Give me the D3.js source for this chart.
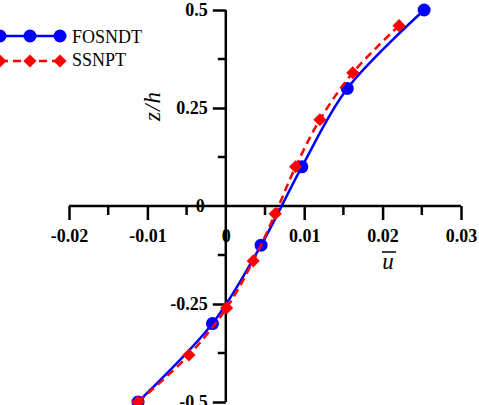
<!DOCTYPE html>
<html>
<head>
<meta charset="utf-8">
<script src="https://cdn.jsdelivr.net/npm/d3@7"></script>
<style>
  body { margin: 0; background: #fff; }
</style>
</head>
<body>
<div id="chart"></div>
<script>
(function(){
    var width = 479;
    var height = 405;
    var serif = "Liberation Serif, Times New Roman, serif";

    // data
    var fosndtU = [0.0253, 0.0155, 0.0097, 0.0045, -0.0017, -0.0112];
    var fosndtZ = [0.5, 0.3, 0.1, -0.1, -0.3, -0.5];
    var ssnptU = [0.0221, 0.0162, 0.012, 0.0089, 0.0063, 0.0035, 0.0001, -0.0047, -0.0112];
    var ssnptZ = [0.46, 0.34, 0.22, 0.1, -0.02, -0.14, -0.26, -0.38, -0.5];
    var xTicks = [-0.02, -0.01, 0, 0.01, 0.02, 0.03];
    var xMinor = [-0.015, -0.005, 0.005, 0.015, 0.025];
    var yTicks = [0.5, 0.25, 0, -0.25, -0.5];
    var yMinor = [0.375, 0.125, -0.125, -0.375];
    var seriesNames = ["FOSNDT", "SSNPT"];

    var svg = d3.select("#chart")
      .append("svg")
      .attr("width", width)
      .attr("height", height)
      .attr("font-family", serif);

    var x = d3.scaleLinear().domain([-0.02, 0.03]).range([69, 461]);
    var y = d3.scaleLinear().domain([-0.5, 0.5]).range([402, 10]);

    var fmt = function(d) { return d === 0 ? "0" : String(d); };

    // x axis through y = 0
    var xAxis = svg.append("g")
      .attr("transform", "translate(0," + y(0) + ")")
      .call(d3.axisBottom(x).tickValues(xTicks).tickSize(14).tickPadding(9).tickFormat(fmt));
    xAxis.attr("font-family", serif);
    xAxis.select(".domain").attr("stroke-width", 2.5).attr("d", "M" + x(-0.02) + ",0H" + x(0.03));
    xAxis.selectAll(".tick line").attr("stroke-width", 2.5);
    xAxis.selectAll(".tick text")
      .attr("font-family", serif)
      .attr("font-size", 18).attr("font-weight", "bold");
    xAxis.selectAll(".minor").data(xMinor).enter().append("line")
      .attr("x1", function(d){ return x(d); }).attr("x2", function(d){ return x(d); })
      .attr("y1", 0).attr("y2", 9)
      .attr("stroke", "#000").attr("stroke-width", 2.5);

    // y axis through x = 0
    var yAxis = svg.append("g")
      .attr("transform", "translate(" + x(0) + ",0)")
      .call(d3.axisLeft(y).tickValues(yTicks).tickSize(13).tickPadding(5).tickFormat(fmt));
    yAxis.attr("font-family", serif);
    yAxis.select(".domain").attr("stroke-width", 2.5).attr("d", "M0," + y(0.5) + "V" + y(-0.5));
    yAxis.selectAll(".tick line").attr("stroke-width", 2.5);
    yAxis.selectAll(".tick text")
      .attr("font-family", serif)
      .attr("font-size", 18).attr("font-weight", "bold");
    // the zero labels sit beside the crossing
    yAxis.selectAll(".tick").filter(function(d){ return d === 0; })
      .select("line").remove();
    yAxis.selectAll(".tick").filter(function(d){ return d === 0; })
      .select("text").attr("x", -21).attr("dy", "0.32em");
    xAxis.selectAll(".tick").filter(function(d){ return d === 0; })
      .select("line").remove();
    yAxis.selectAll(".minor").data(yMinor).enter().append("line")
      .attr("y1", function(d){ return y(d); }).attr("y2", function(d){ return y(d); })
      .attr("x1", 0).attr("x2", -8)
      .attr("stroke", "#000").attr("stroke-width", 2.5);

    // axis titles
    svg.append("text")
      .attr("transform", "translate(160,106) rotate(-90)")
      .attr("text-anchor", "middle")
      .attr("font-size", 23).attr("font-style", "italic")
      .attr("letter-spacing", 1)
      .text("z/h");
    svg.append("text")
      .attr("x", 388).attr("y", 269)
      .attr("text-anchor", "middle")
      .attr("font-size", 23).attr("font-style", "italic")
      .text("u");
    svg.append("line")
      .attr("x1", 382).attr("x2", 396).attr("y1", 252).attr("y2", 252)
      .attr("stroke", "#000").attr("stroke-width", 1.5);

    var blue = d3.zip(fosndtU, fosndtZ);
    var red = d3.zip(ssnptU, ssnptZ);

    var line = d3.line()
      .curve(d3.curveCatmullRom)
      .x(function(d) { return x(d[0]); })
      .y(function(d) { return y(d[1]); });

    svg.append("path")
      .attr("d", line(blue))
      .attr("stroke", "#0000ff")
      .attr("stroke-width", 2.5)
      .attr("fill", "none");
    svg.selectAll(".circ").data(blue).enter().append("circle")
      .attr("cx", function(d){ return x(d[0]); })
      .attr("cy", function(d){ return y(d[1]); })
      .attr("r", 6.5)
      .attr("fill", "#0000ff");

    svg.append("path")
      .attr("d", line(red))
      .attr("stroke", "#ff0000")
      .attr("stroke-width", 2.5)
      .attr("stroke-dasharray", "8,5")
      .attr("fill", "none");
    var diamond = d3.symbol().type(d3.symbolDiamond2).size(110);
    svg.selectAll(".diam").data(red).enter().append("path")
      .attr("d", diamond)
      .attr("transform", function(d){ return "translate(" + x(d[0]) + "," + y(d[1]) + ")"; })
      .attr("fill", "#ff0000");

    // legend
    var legend = svg.append("g");
    var lx = [0, 30, 60];
    legend.append("line").attr("x1", 0).attr("x2", 60).attr("y1", 36).attr("y2", 36)
      .attr("stroke", "#0000ff").attr("stroke-width", 2.5);
    legend.selectAll(".lc").data(lx).enter().append("circle")
      .attr("cx", function(d){ return d; }).attr("cy", 36).attr("r", 6.5).attr("fill", "#0000ff");
    legend.append("line").attr("x1", 0).attr("x2", 60).attr("y1", 61).attr("y2", 61)
      .attr("stroke", "#ff0000").attr("stroke-width", 2.5).attr("stroke-dasharray", "8,5");
    legend.selectAll(".ld").data(lx).enter().append("path")
      .attr("d", diamond)
      .attr("transform", function(d){ return "translate(" + d + ",61)"; })
      .attr("fill", "#ff0000");
    legend.selectAll(".lt").data(seriesNames).enter().append("text")
      .attr("x", 72).attr("y", function(d, i){ return 37 + i * 23; })
      .attr("dy", "0.35em")
      .attr("font-size", 18)
      .text(function(d){ return d; });
})();
</script>
</body>
</html>
